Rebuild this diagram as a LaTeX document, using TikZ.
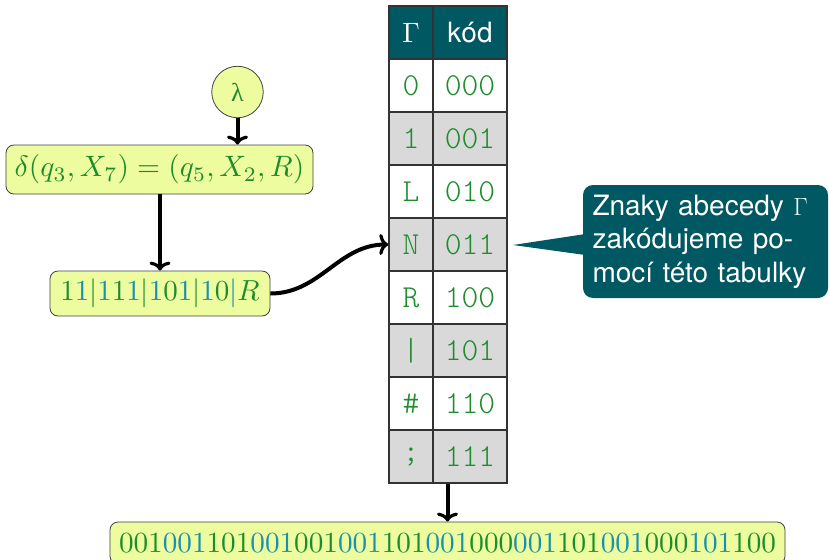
\documentclass[tikz,border=0pt]{standalone}
\usepackage{graphicx}
\usepackage{fontspec}
\usetikzlibrary{arrows.meta,calc}
\newfontfamily\headsans{TeX Gyre Heros}
\newfontfamily\cellmono{Latin Modern Mono Light}
\newfontfamily\lamfont{Liberation Serif}

\definecolor{codegreen}{RGB}{30,140,45}
\definecolor{codeteal}{RGB}{25,145,170}
\definecolor{boxfill}{RGB}{238,252,160}
\definecolor{headfill}{RGB}{0,88,98}
\definecolor{rowgray}{RGB}{217,217,217}

% alternating colours of the code groups
\newcommand\gd[1]{\textcolor{codegreen}{#1}}
\newcommand\td[1]{\textcolor{codeteal}{#1}}
% ten-point design size, enlarged
\newcommand\enlarged[2]{\scalebox{#1}{#2}}

\begin{document}
\begin{tikzpicture}[x=1pt,y=-1pt,
  ybox/.style={draw=black!75, line width=0.8pt, fill=boxfill,
    rounded corners=8pt, inner sep=0pt, text=codegreen,
    font=\fontsize{10}{12}\selectfont},
  arr/.style={line width=4pt, -{To[length=9pt,width=21pt,line width=3.2pt]}},
  cell/.style={draw=black!80, line width=1.5pt, inner sep=0pt,
    minimum height=53pt, text=codegreen,
    font=\cellmono\fontsize{32}{34}\selectfont},
  symcol/.style={cell, minimum width=44pt},
  codecol/.style={cell, minimum width=74pt},
  headcell/.style={fill=headfill, text=white},
  callbox/.style={fill=headfill, rounded corners=10pt, text=white,
    inner xsep=9.5pt, inner ysep=0pt, text width=226pt,
    minimum height=113pt, align=left,
    font=\headsans\fontsize{28}{33.6}\selectfont}
]
\useasboundingbox (0,0) rectangle (829,559);

% lambda and the transition
\node[ybox, circle, minimum size=51.5pt, font=\lamfont\fontsize{26}{28}\selectfont]
  (lam) at (237.5,92) {λ};
\node[ybox, minimum width=307pt, minimum height=49pt]
  (delta) at (159.5,169.5) {\enlarged{2.95}{$\delta(q_3,X_7)=(q_5,X_2,R)$}};
\node[ybox, minimum width=220pt, minimum height=45pt]
  (code) at (160,293.5)
  {\enlarged{2.9}{$\gd{1}\td{1}\gd{|}\td{1}\gd{1}\td{1}\gd{|}\td{1}\gd{0}\td{1}\gd{|}\td{1}\gd{0}\td{|}\gd{R}$}};

% encoding table
\node[symcol, headcell] (hs) at (411,32.5) {\fontsize{10}{12}\selectfont\enlarged{2.8}{$\Gamma$}};
\node[codecol, headcell] (hc) at (470,32.5) {\headsans\fontsize{28}{30}\selectfont kód};
\foreach \s/\c [count=\i] in {0/000,1/001,L/010,N/011,R/100,|/101,\#/110,;/111}{
  \ifodd\i \def\rf{white}\else\def\rf{rowgray}\fi
  \node[symcol, fill=\rf] (s\i) at (411,{59+53*(\i-0.5)}) {\s};
  \node[codecol, fill=\rf] (c\i) at (470,{59+53*(\i-0.5)}) {\c};
}

% resulting binary word
\node[ybox, minimum width=675pt, minimum height=42pt]
  (bits) at (447.5,543)
  {\enlarged{2.92}{\gd{001}\td{001}\gd{101}\td{001}\gd{001}\td{001}\gd{101}\td{001}\gd{000}\td{001}\gd{101}\td{001}\gd{000}\td{101}\gd{100}}};

% remark
\node[callbox] (note) at (705.5,241.5)
  {Znaky abecedy $\Gamma$\\zakódujeme po-\\mocí této tabulky};
\coordinate (tip) at (513,245);
\fill[headfill] ($(note.west)+(6,-8)$) -- (tip) -- ($(note.west)+(6,14)$) -- cycle;

% connectors
\draw[arr] (lam.south) -- (lam.south |- delta.north);
\draw[arr] (code.north |- delta.south) -- (code.north);
\draw[arr] (code.east) to[out=0,in=180] (s4.west);
\draw[arr] (bits.north |- s8.south) -- (bits.north);
\end{tikzpicture}
\end{document}
